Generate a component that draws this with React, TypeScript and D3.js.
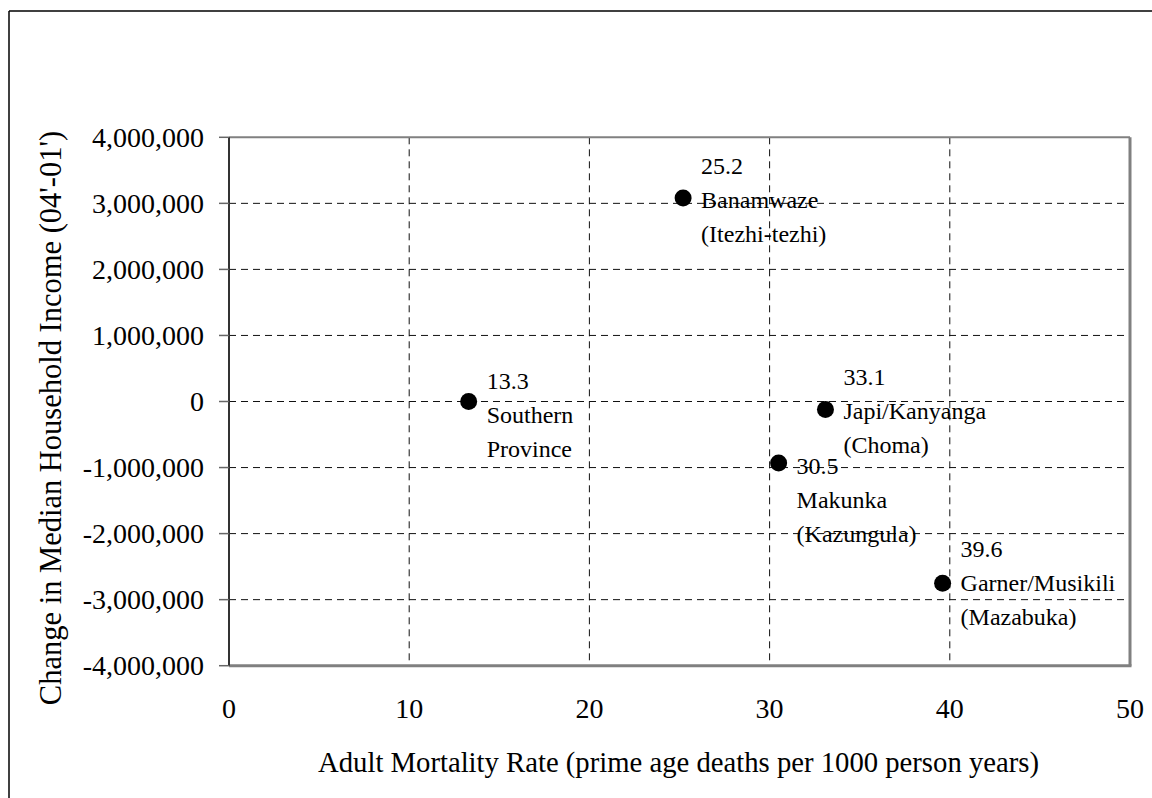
import React from "react";
import * as d3 from "d3";

// ---- data ----
const mortality = [13.3, 25.2, 33.1, 30.5, 39.6];
const incomeChange = [0, 3080000, -120000, -930000, -2750000];
const valueLabels = ["13.3", "25.2", "33.1", "30.5", "39.6"];
const nameLine1 = ["Southern", "Banamwaze", "Japi/Kanyanga", "Makunka", "Garner/Musikili"];
const nameLine2 = ["Province", "(Itezhi-tezhi)", "(Choma)", "(Kazungula)", "(Mazabuka)"];
const xTicks = [0, 10, 20, 30, 40, 50];
const yTicks = [4000000, 3000000, 2000000, 1000000, 0, -1000000, -2000000, -3000000, -4000000];
const xTitle = "Adult Mortality Rate (prime age deaths per 1000 person years)";
const yTitle = "Change in Median Household Income (04'-01')";

// ---- layout ----
const W = 1152;
const H = 798;
const plot = { left: 229, right: 1130, top: 137.3, bottom: 665.7 };
const labelFirstDy = [-13, -24, -24, 11, -26];
const lineGap = 34;
const font = "'Liberation Serif', 'Times New Roman', serif";

const locale = d3.formatLocale({ decimal: ".", thousands: ",", grouping: [3], currency: ["", ""], minus: "-" });
const fmt = locale.format(",");

export default function App() {
  const x = d3.scaleLinear().domain([0, 50]).range([plot.left, plot.right]);
  const y = d3.scaleLinear().domain([-4000000, 4000000]).range([plot.bottom, plot.top]);

  return (
    <svg width={W} height={H} style={{ position: "absolute", left: 0, top: 0, background: "#fff" }} fontFamily={font}>
      {/* outer border */}
      <line x1={9} y1={11} x2={W} y2={11} stroke="#000" strokeWidth={1.5} />
      <line x1={9} y1={11} x2={9} y2={H} stroke="#000" strokeWidth={1.5} />

      {/* grid */}
      {xTicks.filter((t) => t > 0 && t < 50).map((t) => (
        <line key={"gx" + t} x1={x(t)} x2={x(t)} y1={plot.top} y2={plot.bottom} stroke="#111" strokeWidth={1} strokeDasharray="7,5" />
      ))}
      {yTicks.filter((t) => t > -4000000 && t < 4000000).map((t) => (
        <line key={"gy" + t} x1={plot.left} x2={plot.right} y1={y(t)} y2={y(t)} stroke="#111" strokeWidth={1} strokeDasharray="7,5" />
      ))}

      {/* frame */}
      <line x1={plot.left} x2={plot.right} y1={plot.top} y2={plot.top} stroke="#808080" strokeWidth={2} />
      <line x1={plot.right} x2={plot.right} y1={plot.top} y2={plot.bottom} stroke="#808080" strokeWidth={3} />
      <line x1={plot.left} x2={plot.right + 1.5} y1={plot.bottom} y2={plot.bottom} stroke="#808080" strokeWidth={3} />
      <line x1={plot.left} x2={plot.left} y1={plot.top} y2={plot.bottom} stroke="#333" strokeWidth={2} />

      {/* y ticks */}
      {yTicks.map((t) => (
        <g key={"yt" + t}>
          <line x1={plot.left - 10} x2={plot.left} y1={y(t)} y2={y(t)} stroke="#666" strokeWidth={1.5} />
          <text x={204} y={y(t) + 9.5} textAnchor="end" fontSize={28} fill="#000">{fmt(t)}</text>
        </g>
      ))}

      {/* x tick labels */}
      {xTicks.map((t) => (
        <text key={"xt" + t} x={x(t)} y={718} textAnchor="middle" fontSize={28} fill="#000">{t}</text>
      ))}

      {/* axis titles */}
      <text x={678.5} y={772} textAnchor="middle" fontSize={28.7} fill="#000">{xTitle}</text>
      <text transform={`translate(61, 418) rotate(-90)`} textAnchor="middle" fontSize={30.5} fill="#000">{yTitle}</text>

      {/* points */}
      {mortality.map((m, i) => (
        <circle key={"p" + i} cx={x(m)} cy={y(incomeChange[i])} r={8.5} fill="#000" />
      ))}

      {/* labels */}
      {mortality.map((m, i) => {
        const lx = x(m) + 18;
        const ly = y(incomeChange[i]) + labelFirstDy[i];
        return (
          <text key={"l" + i} x={lx} y={ly} fontSize={24} fill="#000">
            <tspan x={lx} y={ly}>{valueLabels[i]}</tspan>
            <tspan x={lx} y={ly + lineGap}>{nameLine1[i]}</tspan>
            <tspan x={lx} y={ly + 2 * lineGap}>{nameLine2[i]}</tspan>
          </text>
        );
      })}
    </svg>
  );
}
